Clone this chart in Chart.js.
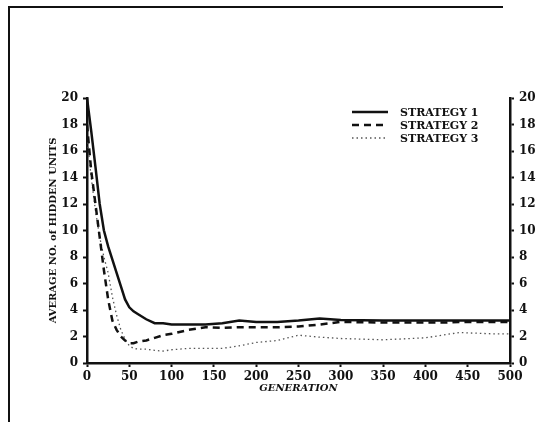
<!DOCTYPE html>
<html lang="en">
<head>
<meta charset="UTF-8">
<title>Average no. of hidden units by generation</title>
<script src="https://cdn.jsdelivr.net/npm/chart.js"></script>
<style>
    html, body { margin: 0; padding: 0; background: #fff; }
    canvas { display: block; }
</style>
</head>
<body>
<canvas id="unitsChart" width="545" height="422"></canvas>

<script>
    // values
    const generations = [0, 5, 10, 15, 20, 25, 30, 35, 40, 45, 50, 55, 60, 70, 80, 90, 100, 120, 140, 160, 180, 200, 225, 250, 275, 300, 350, 400, 420, 440, 460, 480, 500];
    const strategy1 = [20, 17.5, 14.8, 12, 10, 8.8, 7.8, 6.8, 5.8, 4.8, 4.2, 3.9, 3.7, 3.3, 3.0, 3.0, 2.9, 2.9, 2.9, 3.0, 3.2, 3.1, 3.1, 3.2, 3.35, 3.25, 3.2, 3.2, 3.2, 3.2, 3.2, 3.2, 3.2];
    const strategy2 = [18, 14.5, 12, 9.5, 7, 4.8, 3.2, 2.5, 2.0, 1.7, 1.5, 1.5, 1.6, 1.7, 1.9, 2.1, 2.2, 2.5, 2.7, 2.65, 2.7, 2.7, 2.7, 2.75, 2.9, 3.1, 3.05, 3.05, 3.05, 3.1, 3.1, 3.1, 3.1];
    const strategy3 = [17, 14, 11.5, 9.5, 8, 6.8, 5, 3.6, 2.5, 1.8, 1.3, 1.1, 1.05, 1.05, 0.95, 0.9, 1.0, 1.1, 1.1, 1.1, 1.3, 1.55, 1.7, 2.1, 1.95, 1.85, 1.75, 1.9, 2.1, 2.3, 2.25, 2.2, 2.2];
    const seriesNames = ['STRATEGY 1', 'STRATEGY 2', 'STRATEGY 3'];
    const xTicks = [0, 50, 100, 150, 200, 250, 300, 350, 400, 450, 500];
    const yTicks = [0, 2, 4, 6, 8, 10, 12, 14, 16, 18, 20];

    const serif = "'DejaVu Serif', 'Liberation Serif', serif";

    function toPoints(values) {
        return generations.map((g, i) => ({ x: g, y: values[i] }));
    }

    // top + left rule of the scanned page
    const framePlugin = {
        id: 'frame',
        beforeDraw(chart) {
            const ctx = chart.ctx;
            ctx.save();
            ctx.strokeStyle = '#111';
            ctx.lineWidth = 2;
            ctx.beginPath();
            ctx.moveTo(9, 422);
            ctx.lineTo(9, 7);
            ctx.lineTo(503, 7);
            ctx.stroke();
            ctx.restore();
        }
    };

    // legend in the upper right of the plot
    const legendPlugin = {
        id: 'inlineLegend',
        afterDraw(chart) {
            const ctx = chart.ctx;
            ctx.save();
            chart.data.datasets.forEach((ds, i) => {
                const y = 112 + i * 13;
                ctx.strokeStyle = ds.borderColor;
                ctx.lineWidth = ds.borderWidth;
                ctx.setLineDash(ds.borderDash || []);
                ctx.beginPath();
                ctx.moveTo(352, y);
                ctx.lineTo(388, y);
                ctx.stroke();
                ctx.setLineDash([]);
                ctx.fillStyle = '#111';
                ctx.font = 'bold 11px ' + serif;
                ctx.textBaseline = 'middle';
                ctx.fillText(ds.label, 400, y + 1);
            });
            ctx.restore();
        }
    };

    const axisTicks = {
        color: '#111',
        font: { family: serif, size: 12, weight: 'bold' }
    };

    new Chart(document.getElementById('unitsChart'), {
        type: 'line',
        data: {
            datasets: [
                {
                    label: seriesNames[0],
                    data: toPoints(strategy1),
                    borderColor: '#111',
                    borderWidth: 2.5,
                    pointRadius: 0,
                    tension: 0
                },
                {
                    label: seriesNames[1],
                    data: toPoints(strategy2),
                    borderColor: '#111',
                    borderWidth: 2.5,
                    borderDash: [7, 5],
                    pointRadius: 0,
                    tension: 0
                },
                {
                    label: seriesNames[2],
                    data: toPoints(strategy3),
                    borderColor: '#555',
                    borderWidth: 1.3,
                    borderDash: [1.5, 3],
                    pointRadius: 0,
                    tension: 0
                }
            ]
        },
        options: {
            responsive: false,
            animation: false,
            layout: { padding: { top: 98, left: 0, right: 0, bottom: 0 } },
            plugins: {
                legend: { display: false },
                tooltip: { enabled: false }
            },
            scales: {
                x: {
                    type: 'linear',
                    position: 'bottom',
                    min: 0,
                    max: 500,
                    afterBuildTicks: s => { s.ticks = xTicks.map(v => ({ value: v })); },
                    afterFit: s => { s.height = 59; },
                    border: { color: '#111', width: 2.5 },
                    grid: { drawOnChartArea: false, tickLength: 4, color: '#111', tickWidth: 2 },
                    ticks: { ...axisTicks, padding: 3, maxRotation: 0 },
                    title: {
                        display: true,
                        text: 'GENERATION',
                        color: '#111',
                        font: { family: serif, size: 10, weight: 'bold', style: 'italic' },
                        padding: { top: 0, bottom: 28 }
                    }
                },
                y: {
                    position: 'left',
                    min: 0,
                    max: 20,
                    afterBuildTicks: s => { s.ticks = yTicks.map(v => ({ value: v })); },
                    afterFit: s => { s.width = 87; },
                    border: { color: '#111', width: 2.5 },
                    grid: { drawOnChartArea: false, tickLength: 4, color: '#111', tickWidth: 2 },
                    ticks: { ...axisTicks, padding: 5 },
                    title: {
                        display: true,
                        text: 'AVERAGE NO. of HIDDEN UNITS',
                        color: '#111',
                        font: { family: serif, size: 10, weight: 'bold' },
                        padding: { top: 47, bottom: 0 }
                    }
                },
                y2: {
                    position: 'right',
                    min: 0,
                    max: 20,
                    afterBuildTicks: s => { s.ticks = yTicks.map(v => ({ value: v })); },
                    afterFit: s => { s.width = 35; },
                    border: { color: '#111', width: 2.5 },
                    grid: { drawOnChartArea: false, tickLength: 4, color: '#111', tickWidth: 2 },
                    ticks: { ...axisTicks, padding: 5 }
                }
            }
        },
        plugins: [framePlugin, legendPlugin]
    });
</script>
</body>
</html>
